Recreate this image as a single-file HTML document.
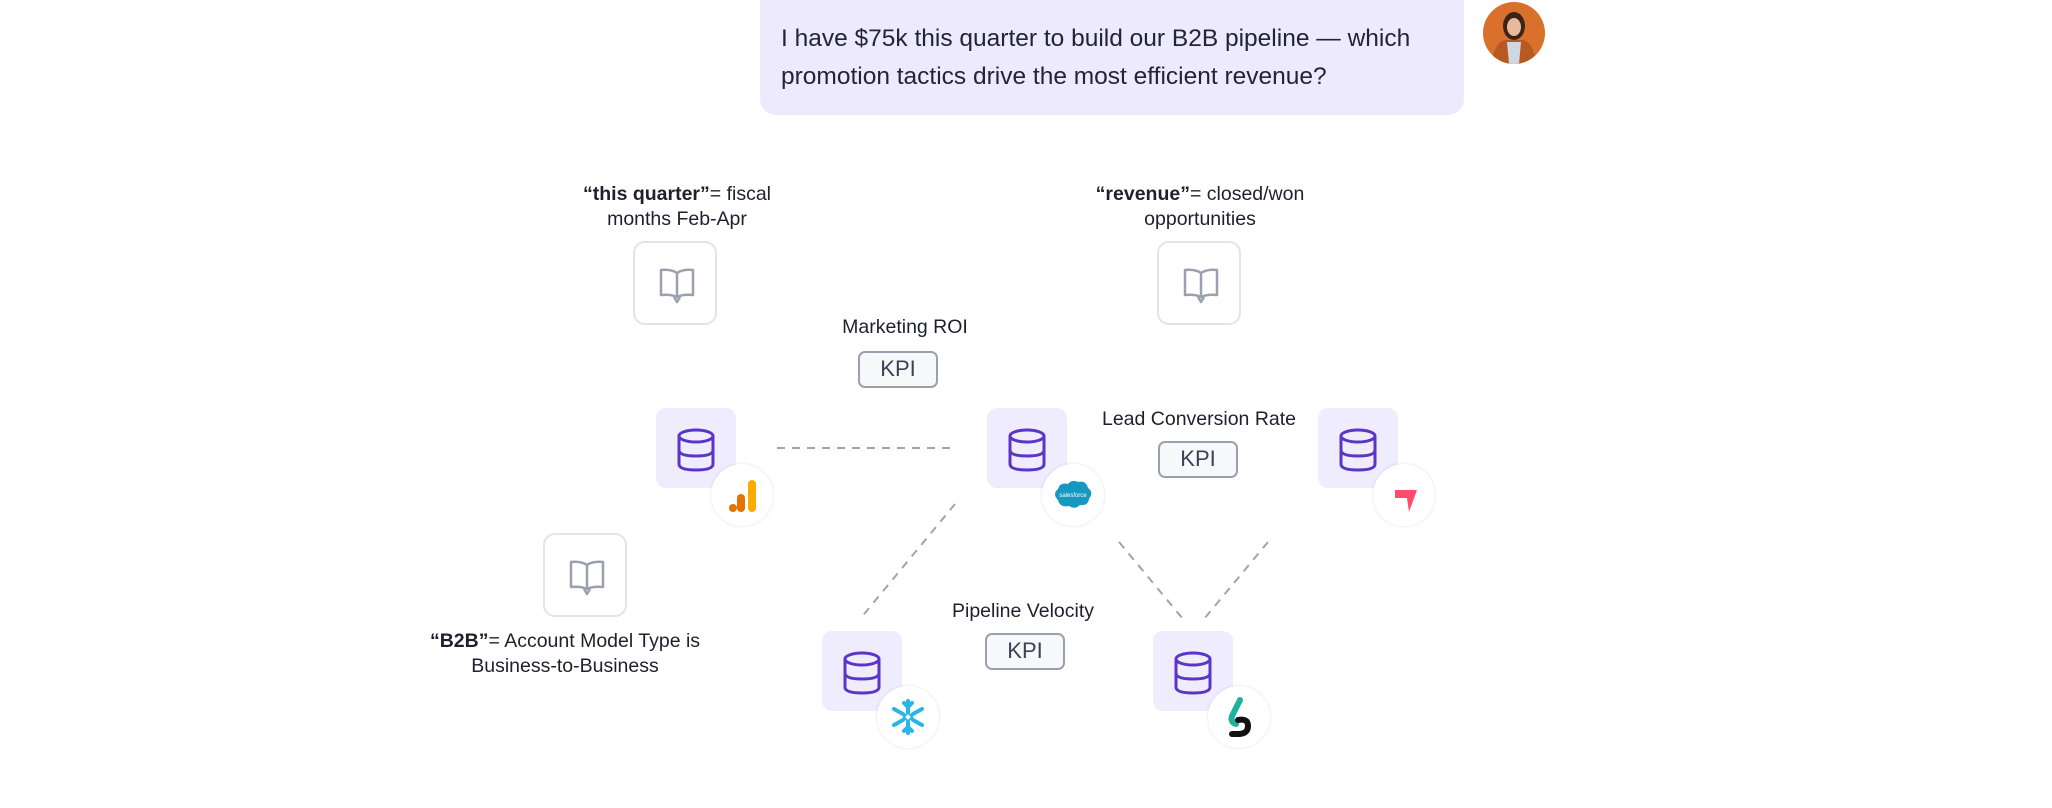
<!DOCTYPE html>
<html><head><meta charset="utf-8"><style>
html,body{margin:0;padding:0;background:#fff;}
body{width:2052px;height:808px;position:relative;overflow:hidden;font-family:"Liberation Sans",sans-serif;color:#1f1f2e;}
.bubble{position:absolute;left:760px;top:0;width:704px;height:115px;background:#eeeafd;border-radius:0 0 16px 16px;box-sizing:border-box;padding:20px 22px 0 21px;font-size:24.5px;line-height:38px;color:#22243a;}
.lbl{position:absolute;font-size:19.5px;line-height:25px;text-align:center;color:#1f1f2e;white-space:nowrap;transform:translateX(-50%);}
.book{position:absolute;width:84px;height:84px;border:2px solid #e4e4e8;border-radius:12px;box-sizing:border-box;background:#fff;}
.book svg{position:absolute;left:20px;top:20px;}
.kpi{position:absolute;width:80px;height:37px;border:2.5px solid #9aa1ad;border-radius:7px;box-sizing:border-box;background:#f7f8fa;font-size:22px;line-height:32px;text-align:center;color:#3b4256;}
.db{position:absolute;width:80px;height:80px;background:#efecfd;border-radius:10px;}
.db svg{position:absolute;left:20px;top:20px;}
.logo{position:absolute;width:62px;height:62px;border-radius:50%;background:#fff;box-shadow:0 0 3px rgba(0,0,0,0.12);}
.logo svg{position:absolute;left:0;top:0;}
</style></head><body>
<div class="bubble">I have $75k this quarter to build our B2B pipeline — which<br>promotion tactics drive the most efficient revenue?</div>
<svg style="position:absolute;left:1483px;top:2px" width="62" height="62"><defs><clipPath id="c"><circle cx="31" cy="31" r="31"/></clipPath></defs><g clip-path="url(#c)"><rect width="62" height="62" fill="#d9702c"/><path d="M8 62 Q12 40 22 38 L40 38 Q50 40 54 62Z" fill="#b85a20"/><path d="M24 40 L38 40 L36 62 L26 62Z" fill="#cfd8e0"/><ellipse cx="31" cy="24" rx="11" ry="14" fill="#3a2418"/><ellipse cx="31" cy="25" rx="7" ry="9" fill="#e9b99a"/></g></svg>

<svg style="position:absolute;left:0;top:0" width="2052" height="808">
<g stroke="#a3a3a8" stroke-width="2" stroke-dasharray="8,7" fill="none">
<line x1="777" y1="448" x2="953" y2="448"/>
<line x1="955" y1="504" x2="860" y2="619"/>
<line x1="1119" y1="542" x2="1183" y2="619"/>
<line x1="1268" y1="542" x2="1204" y2="619"/>
</g></svg>

<div class="lbl" style="left:677px;top:182px"><b>“this quarter”</b>= fiscal<br>months Feb-Apr</div>
<div class="lbl" style="left:1200px;top:182px"><b>“revenue”</b>= closed/won<br>opportunities</div>
<div class="lbl" style="left:565px;top:629px"><b>“B2B”</b>= Account Model Type is<br>Business-to-Business</div>
<div class="lbl" style="left:905px;top:315px">Marketing ROI</div>
<div class="lbl" style="left:1199px;top:407px">Lead Conversion Rate</div>
<div class="lbl" style="left:1023px;top:599px">Pipeline Velocity</div>

<div class="book" style="left:633px;top:241px"><svg width="44" height="44" viewBox="0 0 44 44"><path d="M22 10 Q16 6 6 7 L6 32 Q16 31 22 34 Q28 31 38 32 L38 7 Q28 6 22 10Z M22 10 L22 34 M19 34 L22 39 L25 34" fill="none" stroke="#9aa0ad" stroke-width="2.5" stroke-linejoin="round"/></svg></div>
<div class="book" style="left:1157px;top:241px"><svg width="44" height="44" viewBox="0 0 44 44"><path d="M22 10 Q16 6 6 7 L6 32 Q16 31 22 34 Q28 31 38 32 L38 7 Q28 6 22 10Z M22 10 L22 34 M19 34 L22 39 L25 34" fill="none" stroke="#9aa0ad" stroke-width="2.5" stroke-linejoin="round"/></svg></div>
<div class="book" style="left:543px;top:533px"><svg width="44" height="44" viewBox="0 0 44 44"><path d="M22 10 Q16 6 6 7 L6 32 Q16 31 22 34 Q28 31 38 32 L38 7 Q28 6 22 10Z M22 10 L22 34 M19 34 L22 39 L25 34" fill="none" stroke="#9aa0ad" stroke-width="2.5" stroke-linejoin="round"/></svg></div>

<div class="kpi" style="left:858px;top:351px">KPI</div>
<div class="kpi" style="left:1158px;top:441px">KPI</div>
<div class="kpi" style="left:985px;top:633px">KPI</div>

<!-- DB nodes -->
<div class="db" style="left:656px;top:408px"><svg width="40" height="44" viewBox="0 0 40 44"><g fill="none" stroke="#5b35c8" stroke-width="3"><ellipse cx="20" cy="8" rx="17" ry="6"/><path d="M3 8 V36 Q3 42 20 42 Q37 42 37 36 V8 M3 22 Q3 28 20 28 Q37 28 37 22"/></g></svg></div>
<div class="db" style="left:987px;top:408px"><svg width="40" height="44" viewBox="0 0 40 44"><g fill="none" stroke="#5b35c8" stroke-width="3"><ellipse cx="20" cy="8" rx="17" ry="6"/><path d="M3 8 V36 Q3 42 20 42 Q37 42 37 36 V8 M3 22 Q3 28 20 28 Q37 28 37 22"/></g></svg></div>
<div class="db" style="left:1318px;top:408px"><svg width="40" height="44" viewBox="0 0 40 44"><g fill="none" stroke="#5b35c8" stroke-width="3"><ellipse cx="20" cy="8" rx="17" ry="6"/><path d="M3 8 V36 Q3 42 20 42 Q37 42 37 36 V8 M3 22 Q3 28 20 28 Q37 28 37 22"/></g></svg></div>
<div class="db" style="left:822px;top:631px"><svg width="40" height="44" viewBox="0 0 40 44"><g fill="none" stroke="#5b35c8" stroke-width="3"><ellipse cx="20" cy="8" rx="17" ry="6"/><path d="M3 8 V36 Q3 42 20 42 Q37 42 37 36 V8 M3 22 Q3 28 20 28 Q37 28 37 22"/></g></svg></div>
<div class="db" style="left:1153px;top:631px"><svg width="40" height="44" viewBox="0 0 40 44"><g fill="none" stroke="#5b35c8" stroke-width="3"><ellipse cx="20" cy="8" rx="17" ry="6"/><path d="M3 8 V36 Q3 42 20 42 Q37 42 37 36 V8 M3 22 Q3 28 20 28 Q37 28 37 22"/></g></svg></div>

<!-- logos -->
<div class="logo" style="left:711px;top:464px"><svg width="62" height="62"><circle cx="22" cy="44" r="4" fill="#e37400"/><rect x="26" y="30" width="8" height="18" rx="4" fill="#e37400"/><rect x="37" y="16" width="8" height="32" rx="4" fill="#f9ab00"/></svg></div>
<div class="logo" style="left:1042px;top:464px"><svg width="62" height="62"><path d="M16 36 Q10 30 16 25 Q18 18 26 20 Q30 15 36 18 Q44 16 46 24 Q52 28 47 35 Q46 42 38 41 Q33 46 27 42 Q18 44 16 36Z" fill="#1798c1"/><text x="31" y="33" font-size="6" fill="#fff" text-anchor="middle" font-family="Liberation Sans">salesforce</text></svg></div>
<div class="logo" style="left:1373px;top:464px"><svg width="62" height="62"><path d="M22 26 L44 26 L36 48 L34 34 L22 34Z" fill="#ff4c6a"/></svg></div>
<div class="logo" style="left:877px;top:686px"><svg width="62" height="62"><g stroke="#29b5e8" stroke-width="4" stroke-linecap="round" fill="none"><path d="M31 15 V26 M31 36 V47 M17 23 L26 28 M36 34 L45 39 M17 39 L26 34 M36 28 L45 23"/><path d="M27 17 L31 21 L35 17 M27 45 L31 41 L35 45"/></g><rect x="28" y="28" width="6" height="6" transform="rotate(45 31 31)" fill="none" stroke="#29b5e8" stroke-width="2"/></svg></div>
<div class="logo" style="left:1208px;top:686px"><svg width="62" height="62"><path d="M32 14 L24 30 Q22 36 28 38" fill="none" stroke="#20b2a0" stroke-width="6" stroke-linecap="round"/><path d="M30 34 Q40 32 40 40 Q40 48 30 48 L24 48" fill="none" stroke="#111" stroke-width="6" stroke-linecap="round"/></svg></div>
</body></html>
